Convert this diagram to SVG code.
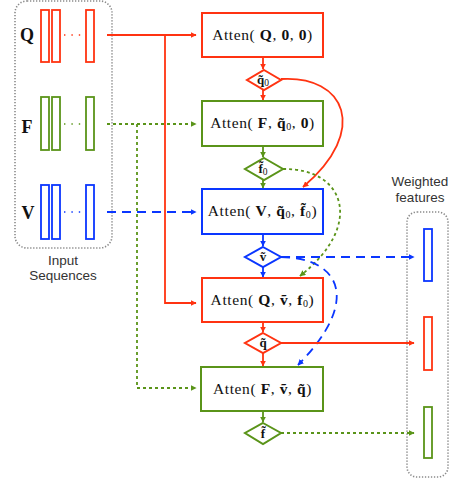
<svg xmlns="http://www.w3.org/2000/svg" width="456" height="479" viewBox="0 0 456 479">
  <style>
    .bg { fill: #ffffff; }
    .frame { fill: none; stroke: #8a8a8a; stroke-width: 1.6; stroke-dasharray: 1.3 1.7; }
    .bar { fill: #ffffff; stroke-width: 1.8; }
    .node { fill: #ffffff; stroke-width: 2; }
    .r { stroke: #ff3311; }
    .g { stroke: #5a9419; }
    .b { stroke: #0a36ff; }
    .link { fill: none; stroke-width: 1.8; }
    .dots { fill: none; stroke-width: 1.4; stroke-dasharray: 1.4 6; }
    .dotted { stroke-dasharray: 3 3; }
    .dashed { stroke-dasharray: 9 6; }
    .lbl { font-family: "Liberation Serif", "DejaVu Serif", serif; font-size: 15.5px; fill: #111; text-anchor: middle; letter-spacing: 0.6px; }
    .dlbl { font-family: "Liberation Serif", "DejaVu Serif", serif; font-size: 13px; fill: #111; text-anchor: middle; font-weight: bold; }
    .sub { font-size: 9.5px; font-weight: normal; }
    .bold { font-weight: bold; }
    .cap { font-family: "Liberation Sans", Arial, sans-serif; font-size: 13.5px; fill: #333; text-anchor: middle; }
    .seq { font-family: "Liberation Serif", "DejaVu Serif", serif; font-size: 18px; font-weight: bold; fill: #111; text-anchor: middle; }
  </style>
  <defs>
    <marker id="ar" viewBox="0 0 10 10" refX="9" refY="5" markerWidth="6" markerHeight="6" markerUnits="userSpaceOnUse" orient="auto"><path d="M0,0 L10,5 L0,10 Z" fill="#ff3311"/></marker>
    <marker id="ag" viewBox="0 0 10 10" refX="9" refY="5" markerWidth="6" markerHeight="6" markerUnits="userSpaceOnUse" orient="auto"><path d="M0,0 L10,5 L0,10 Z" fill="#5a9419"/></marker>
    <marker id="ab" viewBox="0 0 10 10" refX="9" refY="5" markerWidth="6" markerHeight="6" markerUnits="userSpaceOnUse" orient="auto"><path d="M0,0 L10,5 L0,10 Z" fill="#0a36ff"/></marker>
  </defs>
  <rect class="bg" x="0" y="0" width="456" height="479"/>

  <!-- input sequences panel -->
  <g id="inputs">
    <rect class="frame" x="15" y="1" width="97" height="247" rx="12"/>
    <text class="seq" x="27" y="41">Q</text>
    <rect class="bar r" x="41" y="10" width="8" height="52"/>
    <rect class="bar r" x="52" y="10" width="8" height="52"/>
    <rect class="bar r" x="86" y="10" width="8" height="52"/>
    <line class="dots r" x1="64" y1="35" x2="82" y2="35"/>
    <text class="seq" x="27" y="133">F</text>
    <rect class="bar g" x="41" y="97" width="8" height="53"/>
    <rect class="bar g" x="52" y="97" width="8" height="53"/>
    <rect class="bar g" x="86" y="97" width="8" height="53"/>
    <line class="dots g" x1="64" y1="124" x2="82" y2="124"/>
    <text class="seq" x="28" y="219">V</text>
    <rect class="bar b" x="41" y="185" width="8" height="54"/>
    <rect class="bar b" x="52" y="185" width="8" height="54"/>
    <rect class="bar b" x="86" y="185" width="8" height="54"/>
    <line class="dots b" x1="64" y1="212" x2="82" y2="212"/>
    <text class="cap" x="63" y="265">Input</text>
    <text class="cap" x="63" y="280">Sequences</text>
  </g>

  <!-- weighted features panel -->
  <g id="outputs">
    <rect class="frame" x="407" y="212" width="41" height="265" rx="10"/>
    <text class="cap" x="420" y="186">Weighted</text>
    <text class="cap" x="420" y="202">features</text>
    <rect class="bar b" x="424" y="229" width="8" height="52"/>
    <rect class="bar r" x="424" y="317" width="8" height="53"/>
    <rect class="bar g" x="424" y="407" width="8" height="51"/>
  </g>

  <!-- connectors -->
  <g id="connectors">
    <path class="link r" d="M107,35 H196" marker-end="url(#ar)"/>
    <path class="link r" d="M165,35 V303 H196" marker-end="url(#ar)"/>
    <path class="link g dotted" d="M107,124 H196" marker-end="url(#ag)"/>
    <path class="link g dotted" d="M137,124 V388 H196" marker-end="url(#ag)"/>
    <path class="link b dashed" d="M107,212 H196" marker-end="url(#ab)"/>

    <path class="link r" d="M263,57 V69" marker-end="url(#ar)"/>
    <path class="link r" d="M263,89 V100" marker-end="url(#ar)"/>
    <path class="link g" d="M263,146 V157" marker-end="url(#ag)"/>
    <path class="link g" d="M263,180 V188" marker-end="url(#ag)"/>
    <path class="link b" d="M263,234 V246" marker-end="url(#ab)"/>
    <path class="link b" d="M263,267 V277" marker-end="url(#ab)"/>
    <path class="link r" d="M263,322 V332" marker-end="url(#ar)"/>
    <path class="link r" d="M263,353 V366" marker-end="url(#ar)"/>
    <path class="link g" d="M263,411 V422" marker-end="url(#ag)"/>

    <path class="link r" d="M281,79 C345,75 370,130 303,187" marker-end="url(#ar)"/>
    <path class="link g dotted" d="M283,169 C345,168 365,225 300,276" marker-end="url(#ag)"/>
    <path class="link b dashed" d="M281,257 C340,258 362,300 298,365" marker-end="url(#ab)"/>

    <path class="link b dashed" d="M281,257 H414" marker-end="url(#ab)"/>
    <path class="link r" d="M281,343 H414" marker-end="url(#ar)"/>
    <path class="link g dotted" d="M281,433 H414" marker-end="url(#ag)"/>
  </g>

  <!-- attention steps -->
  <g id="atten-q0">
    <rect class="node r" x="202" y="13" width="121" height="44"/>
    <text class="lbl" x="262.5" y="40">Atten( <tspan class="bold">Q</tspan>, <tspan class="bold">0</tspan>, <tspan class="bold">0</tspan>)</text>
  </g>
  <g id="q0">
    <polygon class="node r" points="264,70 281,80 264,90 247,80"/>
    <text class="dlbl" x="263" y="84">q̃<tspan class="sub" dy="2">0</tspan></text>
  </g>
  <g id="atten-f0">
    <rect class="node g" x="202" y="101" width="121" height="45"/>
    <text class="lbl" x="262.5" y="128">Atten( <tspan class="bold">F</tspan>, <tspan class="bold">q̃</tspan><tspan font-size="10" dy="2">0</tspan><tspan dy="-2">, </tspan><tspan class="bold">0</tspan>)</text>
  </g>
  <g id="f0">
    <polygon class="node g" points="264,158 283,169 264,180 245,169"/>
    <text class="dlbl" x="263" y="173">f̃<tspan class="sub" dy="2">0</tspan></text>
  </g>
  <g id="atten-v">
    <rect class="node b" x="202" y="189" width="121" height="45"/>
    <text class="lbl" x="262.5" y="216">Atten( <tspan class="bold">V</tspan>, <tspan class="bold">q̃</tspan><tspan font-size="10" dy="2">0</tspan><tspan dy="-2">, </tspan><tspan class="bold">f̃</tspan><tspan font-size="10" dy="2">0</tspan><tspan dy="-2">)</tspan></text>
  </g>
  <g id="v">
    <polygon class="node b" points="263,247 281,257 263,267 245,257"/>
    <text class="dlbl" x="263" y="261">ṽ</text>
  </g>
  <g id="atten-q">
    <rect class="node r" x="202" y="278" width="121" height="44"/>
    <text class="lbl" x="262.5" y="305">Atten( <tspan class="bold">Q</tspan>, <tspan class="bold">ṽ</tspan>, <tspan class="bold">f</tspan><tspan font-size="10" dy="2">0</tspan><tspan dy="-2">)</tspan></text>
  </g>
  <g id="q">
    <polygon class="node r" points="263,333 281,343 263,353 245,343"/>
    <text class="dlbl" x="263" y="347">q̃</text>
  </g>
  <g id="atten-f">
    <rect class="node g" x="201" y="367" width="122" height="44"/>
    <text class="lbl" x="262.5" y="394">Atten( <tspan class="bold">F</tspan>, <tspan class="bold">ṽ</tspan>, <tspan class="bold">q̃</tspan>)</text>
  </g>
  <g id="f">
    <polygon class="node g" points="263,423 281,433 263,444 245,433"/>
    <text class="dlbl" x="263" y="438">f̃</text>
  </g>
</svg>
